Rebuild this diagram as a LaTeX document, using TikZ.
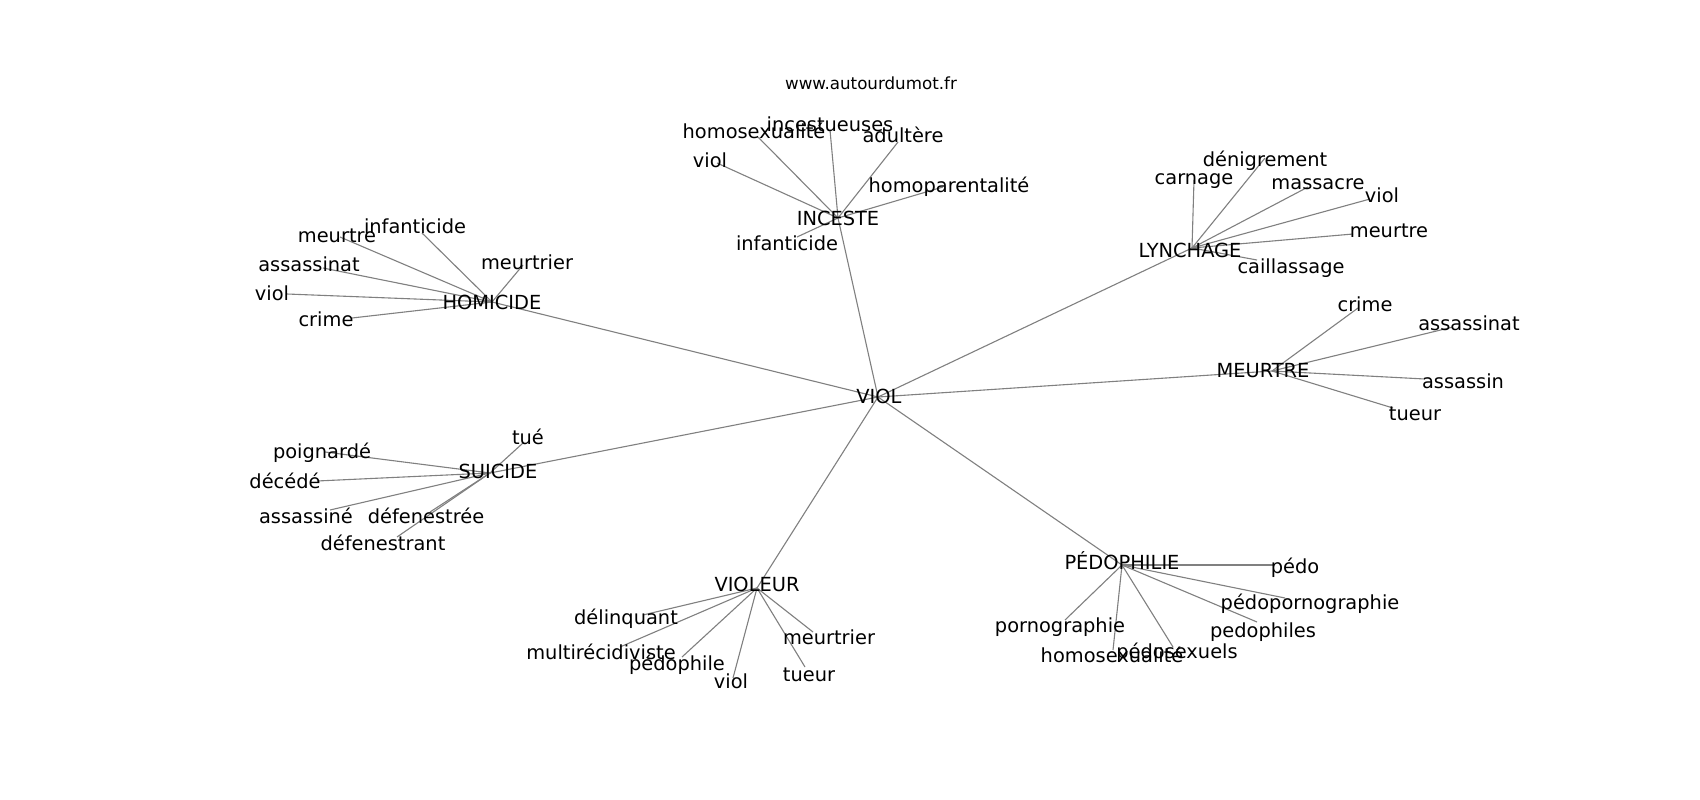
\documentclass[tikz,border=0pt]{standalone}
\usepackage{fontspec}
\setmainfont{DejaVu Sans}
\begin{document}
\begin{tikzpicture}[x=1bp,y=-1bp,
  lbl/.style={inner sep=0pt,anchor=center,text height=14.7bp,text depth=0pt,font=\fontsize{19.4bp}{22bp}\selectfont,text=black},
  ttl/.style={inner sep=0pt,anchor=center,text height=12.6bp,text depth=0pt,font=\fontsize{16.7bp}{19bp}\selectfont,text=black},
  edge/.style={draw=gray,line width=1.1bp}]
\useasboundingbox[fill=white] (0,0) rectangle (1700,800);
% hub points
\coordinate (viol) at (878,397);
\coordinate (inc) at (838,218);
\coordinate (hom) at (492,302);
\coordinate (sui) at (490,473);
\coordinate (vlr) at (757,588);
\coordinate (ped) at (1122,565);
\coordinate (meu) at (1272,371);
\coordinate (lyn) at (1192,248);
% leaf points
\coordinate (i1) at (830,130);
\coordinate (i2) at (758,137);
\coordinate (i3) at (898,142);
\coordinate (i4) at (717,163);
\coordinate (i5) at (943,187);
\coordinate (i6) at (797,237);
\coordinate (h1) at (287,294);
\coordinate (h2) at (352,318);
\coordinate (h3) at (323,268);
\coordinate (h4) at (340,237);
\coordinate (h5) at (422,233);
\coordinate (h6) at (523,265);
\coordinate (s1) at (523,443);
\coordinate (s2) at (325,452);
\coordinate (s3) at (317,481);
\coordinate (s4) at (330,510);
\coordinate (s5) at (430,512);
\coordinate (s6) at (397,537);
\coordinate (v1) at (643,615);
\coordinate (v2) at (620,647);
\coordinate (v3) at (682,657);
\coordinate (v4) at (733,678);
\coordinate (v5) at (813,632);
\coordinate (v6) at (805,667);
\coordinate (p1) at (1273,565);
\coordinate (p2) at (1285,598);
\coordinate (p3) at (1257,622);
\coordinate (p4) at (1173,647);
\coordinate (p5) at (1113,650);
\coordinate (p6) at (1065,620);
\coordinate (m1) at (1358,308);
\coordinate (m2) at (1453,327);
\coordinate (m3) at (1425,379);
\coordinate (m4) at (1393,408);
\coordinate (l1) at (1194,180);
\coordinate (l2) at (1265,158);
\coordinate (l3) at (1308,187);
\coordinate (l4) at (1370,199);
\coordinate (l5) at (1353,234);
\coordinate (l6) at (1257,260);
% edges
\foreach \h in {inc,hom,sui,vlr,ped,meu,lyn} \draw[edge] (viol) -- (\h);
\foreach \l in {i1,i2,i3,i4,i5,i6} \draw[edge] (inc) -- (\l);
\foreach \l in {h1,h2,h3,h4,h5,h6} \draw[edge] (hom) -- (\l);
\foreach \l in {s1,s2,s3,s4,s5,s6} \draw[edge] (sui) -- (\l);
\foreach \l in {v1,v2,v3,v4,v5,v6} \draw[edge] (vlr) -- (\l);
\foreach \l in {p1,p2,p3,p4,p5,p6} \draw[edge] (ped) -- (\l);
\foreach \l in {m1,m2,m3,m4} \draw[edge] (meu) -- (\l);
\foreach \l in {l1,l2,l3,l4,l5,l6} \draw[edge] (lyn) -- (\l);
% labels
\node[ttl] (title) at (871,83) {www.autourdumot.fr};
\node[lbl] (violL) at (879,396) {VIOL};
\node[lbl] (incL) at (838,218) {INCESTE};
\node[lbl] (homL) at (492,302) {HOMICIDE};
\node[lbl] (suiL) at (498,471) {SUICIDE};
\node[lbl] (vlrL) at (757,584) {VIOLEUR};
\node[lbl] (pedL) at (1122,562) {PÉDOPHILIE};
\node[lbl] (meuL) at (1263,370) {MEURTRE};
\node[lbl] (lynL) at (1190,250) {LYNCHAGE};
\node[lbl] (i1L) at (830,124) {incestueuses};
\node[lbl] (i2L) at (754,131) {homosexualité};
\node[lbl] (i3L) at (903,135) {adultère};
\node[lbl] (i4L) at (710,160) {viol};
\node[lbl] (i5L) at (949,185) {homoparentalité};
\node[lbl] (i6L) at (787,243) {infanticide};
\node[lbl] (h1L) at (272,293) {viol};
\node[lbl] (h2L) at (326,319) {crime};
\node[lbl] (h3L) at (309,264) {assassinat};
\node[lbl] (h4L) at (337,235) {meurtre};
\node[lbl] (h5L) at (415,226) {infanticide};
\node[lbl] (h6L) at (527,262) {meurtrier};
\node[lbl] (s1L) at (528,437) {tué};
\node[lbl] (s2L) at (322,451) {poignardé};
\node[lbl] (s3L) at (285,481) {décédé};
\node[lbl] (s4L) at (306,516) {assassiné};
\node[lbl] (s5L) at (426,516) {défenestrée};
\node[lbl] (s6L) at (383,543) {défenestrant};
\node[lbl] (v1L) at (626,617) {délinquant};
\node[lbl] (v2L) at (601,652) {multirécidiviste};
\node[lbl] (v3L) at (677,663) {pédophile};
\node[lbl] (v4L) at (731,681) {viol};
\node[lbl] (v5L) at (829,637) {meurtrier};
\node[lbl] (v6L) at (809,674) {tueur};
\node[lbl] (p1L) at (1295,566) {pédo};
\node[lbl] (p2L) at (1310,602) {pédopornographie};
\node[lbl] (p3L) at (1263,630) {pedophiles};
\node[lbl] (p4L) at (1177,651) {pédosexuels};
\node[lbl] (p5L) at (1112,655) {homosexualité};
\node[lbl] (p6L) at (1060,625) {pornographie};
\node[lbl] (m1L) at (1365,304) {crime};
\node[lbl] (m2L) at (1469,323) {assassinat};
\node[lbl] (m3L) at (1463,381) {assassin};
\node[lbl] (m4L) at (1415,413) {tueur};
\node[lbl] (l1L) at (1194,177) {carnage};
\node[lbl] (l2L) at (1265,159) {dénigrement};
\node[lbl] (l3L) at (1318,182) {massacre};
\node[lbl] (l4L) at (1382,195) {viol};
\node[lbl] (l5L) at (1389,230) {meurtre};
\node[lbl] (l6L) at (1291,266) {caillassage};
\end{tikzpicture}
\end{document}
